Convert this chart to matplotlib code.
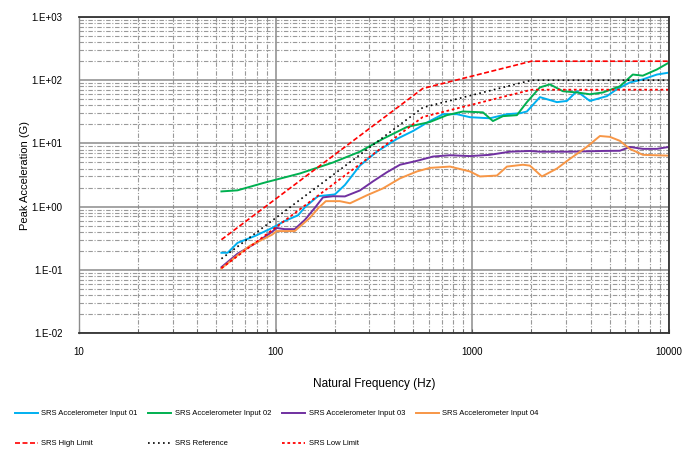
import matplotlib
matplotlib.use("Agg")
import matplotlib.pyplot as plt
import numpy as np
from matplotlib.ticker import LogLocator, NullFormatter

plt.rcParams['font.family'] = ['Liberation Sans', 'DejaVu Sans']

# measured SRS curves (frequency in Hz, peak acceleration in G)
f_in1 = [53, 57, 64, 78.5, 96, 111, 130, 141, 164, 200, 225, 268, 327, 414, 499, 608, 709,
         835, 973, 1228, 1500, 1747, 1895, 2207, 2693, 3027, 3404, 3964, 4835, 5431, 6322,
         7364, 8685, 10000]
a_in1 = [0.186, 0.186, 0.267, 0.343, 0.46, 0.59, 0.73, 0.98, 1.46, 1.56, 2.2, 4.45, 7.4,
         11.8, 15.7, 22.6, 29, 29, 26, 25, 29, 30, 32, 54, 45, 47, 67, 47, 56, 72, 92,
         103, 123, 132]

f_in2 = [53, 64, 88, 133, 196, 268, 351, 465, 608, 743, 896, 1133, 1273, 1431, 1686, 1895,
         2207, 2482, 2888, 3404, 3964, 4615, 5625, 6549, 7364, 8685, 10000]
a_in2 = [1.74, 1.81, 2.4, 3.35, 5.0, 7.4, 11.8, 18.2, 21.8, 28, 32, 31, 22.6, 27, 28, 45,
         77, 86, 67, 64, 60, 64, 80, 123, 118, 148, 190]

f_in3 = [53, 64, 78.5, 96, 101, 111, 125, 141, 158, 174, 196, 225, 268, 312, 368, 429, 523,
         631, 770, 973, 1228, 1553, 1963, 2200, 3135, 4615, 5625, 6322, 7364, 8685, 10000]
a_in3 = [0.11, 0.18, 0.26, 0.4, 0.46, 0.44, 0.44, 0.62, 0.95, 1.4, 1.46, 1.45, 1.8, 2.5, 3.5,
         4.6, 5.3, 6.2, 6.5, 6.3, 6.6, 7.4, 7.6, 7.4, 7.4, 7.6, 7.65, 8.8, 8.2, 8.2, 8.8]

f_in4 = [53, 64, 74, 96, 101, 125, 149, 165, 180, 212, 239, 291, 351, 429, 523, 608, 770, 973,
         1093, 1334, 1500, 1809, 1963, 2259, 2693, 3135, 3828, 4455, 5006, 5625, 6322, 7364,
         10000]
a_in4 = [0.105, 0.17, 0.24, 0.36, 0.41, 0.41, 0.66, 0.95, 1.22, 1.22, 1.13, 1.51, 1.94, 2.8,
         3.6, 4.1, 4.3, 3.6, 3.0, 3.1, 4.3, 4.6, 4.45, 3.0, 4.0, 5.7, 8.85, 13.1, 12.7, 11.0,
         8.2, 6.6, 6.4]

# SRS specification
f_ref = [53, 560, 2000, 10000]
a_ref = [0.15, 37, 100, 100]
a_high = [a * 2.0 for a in a_ref]     # +6 dB
a_low = [a * 0.708 for a in a_ref]    # -3 dB

labels = ["SRS Accelerometer Input 01", "SRS Accelerometer Input 02",
          "SRS Accelerometer Input 03", "SRS Accelerometer Input 04",
          "SRS High Limit", "SRS Reference", "SRS Low Limit"]

fig = plt.figure(figsize=(6.84, 4.54), dpi=100)
ax = fig.add_axes([0.1155, 0.2665, 0.8625, 0.696])

h1, = ax.plot(f_in1, a_in1, color='#00B0F0', lw=1.4)
h2, = ax.plot(f_in2, a_in2, color='#00B050', lw=1.4)
h3, = ax.plot(f_in3, a_in3, color='#7030A0', lw=1.4)
h4, = ax.plot(f_in4, a_in4, color='#F79646', lw=1.4)
hh, = ax.plot(f_ref, a_high, color='#FF0000', lw=1.2, ls=(0, (3, 1.5)))
hr, = ax.plot(f_ref, a_ref, color='black', lw=1.2, ls=(0, (1, 2)))
hl, = ax.plot(f_ref, a_low, color='#FF0000', lw=1.3, ls=(0, (1.5, 1.5)))

ax.set_xscale('log')
ax.set_yscale('log')
ax.set_xlim(10, 10000)
ax.set_ylim(0.01, 1000)

ax.set_xticks([10, 100, 1000, 10000])
ax.set_xticklabels(["10", "100", "1000", "10000"])
ax.set_yticks([0.01, 0.1, 1, 10, 100, 1000])
ax.set_yticklabels(["1.E-02", "1.E-01", "1.E+00", "1.E+01", "1.E+02", "1.E+03"])
ax.xaxis.set_minor_locator(LogLocator(base=10, subs=np.arange(2, 10)))
ax.yaxis.set_minor_locator(LogLocator(base=10, subs=np.arange(2, 10)))
ax.xaxis.set_minor_formatter(NullFormatter())
ax.yaxis.set_minor_formatter(NullFormatter())

ax.grid(which='major', color='#8c8c8c', lw=1.1, ls='-')
ax.grid(which='minor', color='#9a9a9a', lw=0.8, ls=(0, (4, 1.5, 1, 1.5)))
ax.set_axisbelow(True)

ax.tick_params(axis='x', which='both', direction='in', length=3, color='#606060',
               labelsize=7, pad=10)
ax.tick_params(axis='y', which='both', length=0, labelsize=7, pad=12)
for s in ['top', 'right', 'bottom']:
    ax.spines[s].set_color('#333333')
    ax.spines[s].set_linewidth(1.3)
ax.spines['left'].set_color('#8c8c8c')
ax.spines['left'].set_linewidth(1.0)

ax.set_xlabel("Natural Frequency (Hz)", fontsize=8.5, labelpad=15)
ax.set_ylabel("Peak Acceleration (G)", fontsize=8, labelpad=1)

# row-major legend layout: 4 entries on the first row, 3 on the second
handles = [h1, hh, h2, hr, h3, hl, h4]
labs = [labels[0], labels[4], labels[1], labels[5], labels[2], labels[6], labels[3]]
fig.legend(handles, labs, ncol=4, loc='upper left', bbox_to_anchor=(0.017, 0.104),
           frameon=False, fontsize=5.5, handlelength=3.0, handletextpad=0.45,
           labelspacing=3.0, columnspacing=1.45, borderaxespad=0)

fig.savefig("out.png", dpi=100)
